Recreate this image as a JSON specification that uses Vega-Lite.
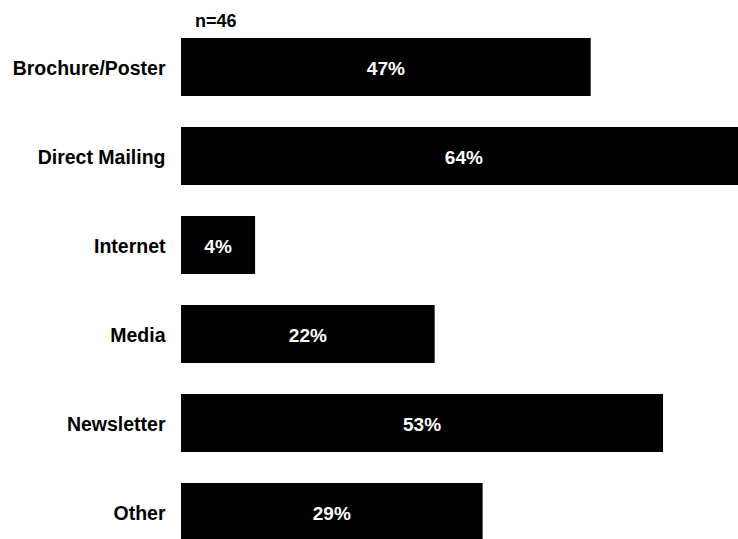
{
  "$schema": "https://vega.github.io/schema/vega-lite/v6.json",
  "width": 557,
  "height": 509,
  "autosize": {"type": "none"},
  "padding": {"left": 181, "top": 30, "right": 0, "bottom": 0},
  "background": "white",
  "title": {
    "text": "n=46",
    "anchor": "start",
    "frame": "group",
    "dx": 14,
    "dy": 2,
    "offset": 1,
    "fontSize": 18,
    "fontWeight": "bold",
    "font": "Liberation Sans",
    "color": "black"
  },
  "data": {
    "values": [
      {"medium": "Brochure/Poster", "value": 47, "label": "47%"},
      {"medium": "Direct Mailing", "value": 64.9, "label": "64%"},
      {"medium": "Internet", "value": 8.5, "label": "4%"},
      {"medium": "Media", "value": 29.1, "label": "22%"},
      {"medium": "Newsletter", "value": 55.3, "label": "53%"},
      {"medium": "Other", "value": 34.6, "label": "29%"}
    ]
  },
  "encoding": {
    "y": {
      "field": "medium",
      "type": "nominal",
      "sort": null,
      "scale": {"range": [0, 519], "paddingInner": 0.3483, "paddingOuter": 0.0899},
      "axis": {
        "title": null,
        "domain": false,
        "ticks": false,
        "labelPadding": 16,
        "labelFontSize": 19.5,
        "labelFontWeight": "bold",
        "labelFont": "Liberation Sans",
        "labelColor": "black",
        "labelOffset": 2
      }
    }
  },
  "layer": [
    {
      "mark": {"type": "bar", "color": "black"},
      "encoding": {
        "x": {"field": "value", "type": "quantitative", "scale": {"domain": [0, 63.9]}, "axis": null}
      }
    },
    {
      "mark": {"type": "text", "color": "white", "fontSize": 19, "fontWeight": "bold", "font": "Liberation Sans", "dy": 2},
      "encoding": {
        "x": {"field": "value", "type": "quantitative", "scale": {"domain": [0, 127.8]}, "axis": null},
        "text": {"field": "label"}
      }
    }
  ],
  "resolve": {"scale": {"x": "independent"}},
  "config": {"view": {"stroke": null}}
}
